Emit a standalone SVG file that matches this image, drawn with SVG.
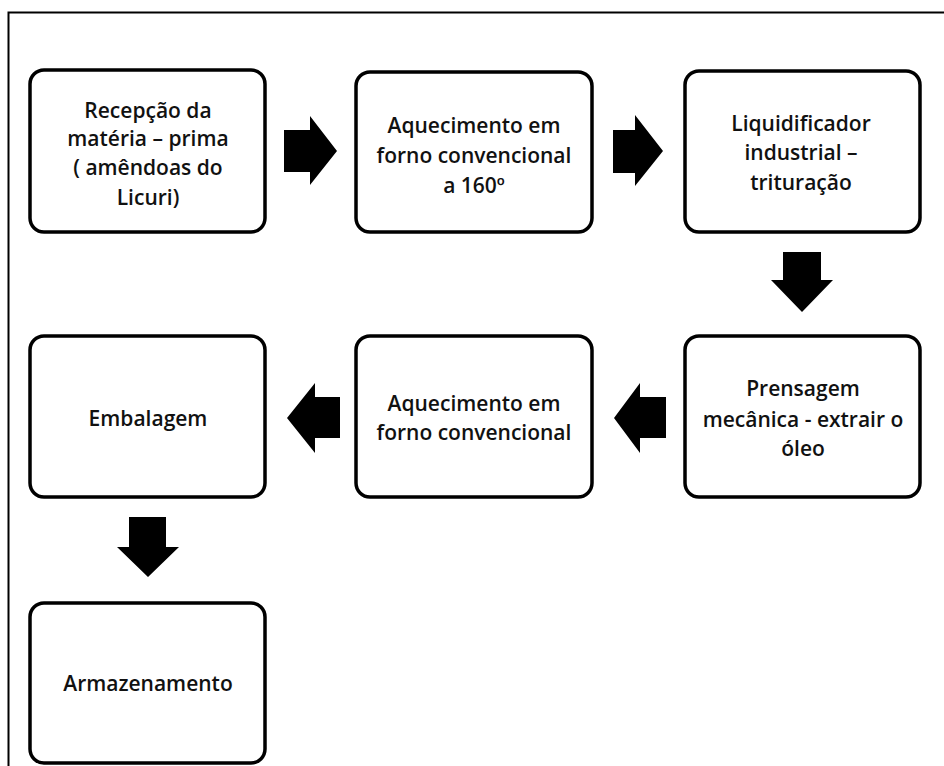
<svg xmlns="http://www.w3.org/2000/svg" width="944" height="766" viewBox="0 0 944 766">
<style>
.box{fill:#fff;stroke:#000;stroke-width:3.5}
.t{font-family:"Open Sans","Liberation Sans",sans-serif;font-weight:600;font-size:21px;fill:#111;text-anchor:middle}
.arr{fill:#000}
</style>
<rect width="944" height="766" fill="#fff"/>
<path d="M8.5,766 V12.5 H944" fill="none" stroke="#000" stroke-width="2"/>
<g id="n1"><rect class="box" x="30" y="70" width="235" height="162" rx="14"/>
<text class="t"><tspan x="148" y="118">Recepção da</tspan><tspan x="148" y="146">matéria – prima</tspan><tspan x="148" y="175">( amêndoas do</tspan><tspan x="148" y="205">Licuri)</tspan></text></g>
<g id="n2"><rect class="box" x="356" y="72" width="236" height="160" rx="14"/>
<text class="t"><tspan x="474" y="133">Aquecimento em</tspan><tspan x="474" y="163">forno convencional</tspan><tspan x="474" y="193">a 160º</tspan></text></g>
<g id="n3"><rect class="box" x="685" y="71" width="235" height="161" rx="14"/>
<text class="t"><tspan x="801" y="131">Liquidificador</tspan><tspan x="801" y="160">industrial –</tspan><tspan x="801" y="190">trituração</tspan></text></g>
<g id="n4"><rect class="box" x="685" y="336" width="235" height="161" rx="14"/>
<text class="t"><tspan x="803" y="396">Prensagem</tspan><tspan x="803" y="427">mecânica - extrair o</tspan><tspan x="803" y="456">óleo</tspan></text></g>
<g id="n5"><rect class="box" x="356" y="336" width="236" height="161" rx="14"/>
<text class="t"><tspan x="474" y="411">Aquecimento em</tspan><tspan x="474" y="440">forno convencional</tspan></text></g>
<g id="n6"><rect class="box" x="30" y="336" width="235" height="161" rx="14"/>
<text class="t"><tspan x="148" y="426">Embalagem</tspan></text></g>
<g id="n7"><rect class="box" x="30" y="603" width="235" height="160" rx="14"/>
<text class="t"><tspan x="148" y="691">Armazenamento</tspan></text></g>
<g id="connectors">
<polygon class="arr" points="284,130 310,130 310,116 337,151 310,185 310,172 284,172"/>
<polygon class="arr" points="613,130 635,130 635,115 663,151 635,186 635,173 613,173"/>
<polygon class="arr" points="783,252 821,252 821,280 833,280 802,312 771,280 783,280"/>
<polygon class="arr" points="666,397 640,397 640,383 614,418 640,453 640,438 666,438"/>
<polygon class="arr" points="340,397 315,397 315,383 287,418 315,453 315,438 340,438"/>
<polygon class="arr" points="129,517 166,517 166,547 179,547 148,577 117,547 129,547"/>
</g>
</svg>
